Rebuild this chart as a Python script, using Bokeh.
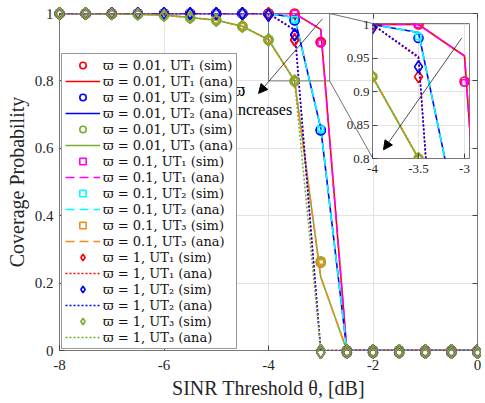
from bokeh.plotting import figure
from bokeh.models import (Range1d, LinearAxis, Legend, LegendItem, Arrow, NormalHead,
                          Label, GridBox, FixedTicker, CustomJSTickFormatter)
from bokeh.embed import file_html
from bokeh.resources import INLINE

# ---------------- data ----------------
theta = [-8.0, -7.5, -7.0, -6.5, -6.0, -5.5, -5.0, -4.5, -4.0, -3.5, -3.0,
         -2.5, -2.0, -1.5, -1.0, -0.5, 0.0]

w001_ut1_sim = [1, 1, 1, 1, 1, 1, 1, 1, 1, 1, 0.915, 0, 0, 0, 0, 0, 0]
w001_ut1_ana = [1, 1, 1, 1, 1, 1, 1, 1, 1, 1, 0.953, 0, 0, 0, 0, 0, 0]
w001_ut2_sim = [1, 1, 1, 1, 1, 1, 1, 1, 1, 0.98, 0.655, 0, 0, 0, 0, 0, 0]
w001_ut2_ana = [1, 1, 1, 1, 1, 1, 1, 1, 1, 0.988, 0.66, 0, 0, 0, 0, 0, 0]
w001_ut3_sim = [1, 1, 0.999, 0.998, 0.995, 0.988, 0.98, 0.962, 0.922, 0.80, 0.265, 0, 0, 0, 0, 0, 0]
w001_ut3_ana = [1, 1, 0.999, 0.998, 0.995, 0.988, 0.98, 0.962, 0.922, 0.80, 0.218, 0, 0, 0, 0, 0, 0]

w01_ut1_sim = [1, 1, 1, 1, 1, 1, 1, 1, 1, 1, 0.913, 0, 0, 0, 0, 0, 0]
w01_ut1_ana = [1, 1, 1, 1, 1, 1, 1, 1, 1, 1, 0.953, 0, 0, 0, 0, 0, 0]
w01_ut2_sim = [1, 1, 1, 1, 1, 1, 1, 1, 1, 0.982, 0.658, 0, 0, 0, 0, 0, 0]
w01_ut2_ana = [1, 1, 1, 1, 1, 1, 1, 1, 1, 0.988, 0.66, 0, 0, 0, 0, 0, 0]
w01_ut3_sim = [1, 1, 0.999, 0.998, 0.995, 0.988, 0.98, 0.962, 0.922, 0.80, 0.265, 0, 0, 0, 0, 0, 0]
w01_ut3_ana = [1, 1, 0.999, 0.998, 0.995, 0.988, 0.98, 0.962, 0.922, 0.80, 0.218, 0, 0, 0, 0, 0, 0]

w1_ut1_sim = [1, 1, 1, 1, 1, 1, 1, 1, 1, 0.922, 0, 0, 0, 0, 0, 0, 0]
w1_ut1_ana = [1, 1, 1, 1, 1, 1, 1, 1, 1, 0.95, 0, 0, 0, 0, 0, 0, 0]
w1_ut2_sim = [1, 1, 1, 1, 1, 1, 1, 1, 0.995, 0.937, 0, 0, 0, 0, 0, 0, 0]
w1_ut2_ana = [1, 1, 1, 1, 1, 1, 1, 1, 1, 0.952, 0, 0, 0, 0, 0, 0, 0]
w1_ut3_sim = [1, 1, 0.999, 0.998, 0.995, 0.988, 0.98, 0.962, 0.922, 0.80, 0, 0, 0, 0, 0, 0, 0]
w1_ut3_ana = [1, 1, 0.999, 0.998, 0.995, 0.988, 0.98, 0.962, 0.922, 0.80, 0, 0, 0, 0, 0, 0, 0]

x_ticks = [-8, -6, -4, -2, 0]
y_ticks = [0, 0.2, 0.4, 0.6, 0.8, 1]
inset_x_ticks = [-4, -3.5, -3]
inset_y_ticks = [0.8, 0.85, 0.9, 0.95, 1]

# ---------------- styles ----------------
RED, BLUE, GREEN = "#ff0000", "#0000ff", "#77ac30"
MAG, CYAN, ORANGE = "#ff00ff", "#00ffff", "#f28c1c"
FONT = "Liberation Serif"
LEG_FONT = "DejaVu Serif"
LW = 1.6

series = [
    ("ϖ = 0.01, UT₁ (sim)", w001_ut1_sim, "sim", RED, "circle", 9),
    ("ϖ = 0.01, UT₁ (ana)", w001_ut1_ana, "ana", RED, "solid", None),
    ("ϖ = 0.01, UT₂ (sim)", w001_ut2_sim, "sim", BLUE, "circle", 9),
    ("ϖ = 0.01, UT₂ (ana)", w001_ut2_ana, "ana", BLUE, "solid", None),
    ("ϖ = 0.01, UT₃ (sim)", w001_ut3_sim, "sim", GREEN, "circle", 9),
    ("ϖ = 0.01, UT₃ (ana)", w001_ut3_ana, "ana", GREEN, "solid", None),
    ("ϖ = 0.1, UT₁ (sim)", w01_ut1_sim, "sim", MAG, "square", 6),
    ("ϖ = 0.1, UT₁ (ana)", w01_ut1_ana, "ana", MAG, "9 5", None),
    ("ϖ = 0.1, UT₂ (sim)", w01_ut2_sim, "sim", CYAN, "square", 6),
    ("ϖ = 0.1, UT₂ (ana)", w01_ut2_ana, "ana", CYAN, "9 5", None),
    ("ϖ = 0.1, UT₃ (sim)", w01_ut3_sim, "sim", ORANGE, "square", 6),
    ("ϖ = 0.1, UT₃ (ana)", w01_ut3_ana, "ana", ORANGE, "9 5", None),
    ("ϖ = 1, UT₁ (sim)", w1_ut1_sim, "sim", RED, "diamond", 12),
    ("ϖ = 1, UT₁ (ana)", w1_ut1_ana, "ana", RED, "2 2", None),
    ("ϖ = 1, UT₂ (sim)", w1_ut2_sim, "sim", BLUE, "diamond", 12),
    ("ϖ = 1, UT₂ (ana)", w1_ut2_ana, "ana", BLUE, "2 2", None),
    ("ϖ = 1, UT₃ (sim)", w1_ut3_sim, "sim", GREEN, "diamond", 12),
    ("ϖ = 1, UT₃ (ana)", w1_ut3_ana, "ana", GREEN, "2 2", None),
]

fmt_code = "return String(tick)"


def style_axes(fig, xt, yt, fs, standoff_x, standoff_y):
    for ax in fig.xaxis + fig.yaxis:
        ax.major_tick_in = 5
        ax.major_tick_out = 0
        ax.minor_tick_line_color = None
        ax.axis_line_color = None
        ax.major_tick_line_color = "#444444"
        ax.major_label_text_font = FONT
        ax.major_label_text_font_size = fs
        ax.major_label_text_color = "#262626"
        ax.formatter = CustomJSTickFormatter(code=fmt_code)
    for ax in fig.xaxis:
        ax.ticker = FixedTicker(ticks=xt)
        ax.major_label_standoff = standoff_x
    for ax in fig.yaxis:
        ax.ticker = FixedTicker(ticks=yt)
        ax.major_label_standoff = standoff_y
    fig.xgrid.ticker = FixedTicker(ticks=xt)
    fig.ygrid.ticker = FixedTicker(ticks=yt)
    fig.grid.grid_line_color = "#e2e2e2"
    fig.outline_line_color = "#777777"
    fig.outline_line_width = 1


# ---------------- layout constants (pixels) ----------------
W, H = 481, 401
B_LEFT, B_RIGHT, B_TOP, B_BOTTOM = 59, 4, 13, 49
X0, X1, Y0, Y1 = -8.0, 0.0, 0.0, 1.0

# ---------------- main figure ----------------
p = figure(width=W, height=H, x_range=Range1d(X0, X1), y_range=Range1d(Y0, Y1),
           output_backend="svg", toolbar_location=None,
           min_border_left=B_LEFT, min_border_right=B_RIGHT,
           min_border_top=B_TOP, min_border_bottom=B_BOTTOM)
p.background_fill_color = "white"
style_axes(p, x_ticks, y_ticks, "15px", 9, 6)
p.xaxis.axis_label = "SINR Threshold θ, [dB]"
p.yaxis.axis_label = "Coverage Probability"
for ax in p.xaxis + p.yaxis:
    ax.axis_label_text_font = FONT
    ax.axis_label_text_font_size = "20px"
    ax.axis_label_text_font_style = "normal"
    ax.axis_label_text_color = "#262626"
    ax.axis_label_standoff = 4

# box ticks on top/right (labels not drawn)
for loc in ("right", "above"):
    ax = LinearAxis(ticker=FixedTicker(ticks=y_ticks if loc == "right" else x_ticks),
                    major_tick_in=5, major_tick_out=0, minor_tick_line_color=None,
                    axis_line_color=None, major_tick_line_color="#444444",
                    major_label_text_color=None, major_label_text_font_size="1px",
                    major_label_standoff=0)
    p.add_layout(ax, loc)

items = []
for label, ys, kind, color, style, size in series:
    if kind == "sim":
        r = p.scatter(theta, ys, marker=style, size=size, fill_color=None,
                      line_color=color, line_width=LW)
    else:
        r = p.line(theta, ys, line_color=color, line_width=LW,
                   line_dash=style)
    items.append(LegendItem(label=label, renderers=[r]))

# zoom rectangle and connectors
zoom_x0, zoom_x1, zoom_y0, zoom_y1 = -4.0, -2.83, 0.8, 1.0
inset_corner_x, inset_top_y, inset_bot_y = -2.01, 0.9705, 0.572
p.quad(left=[zoom_x0], right=[zoom_x1], bottom=[zoom_y0], top=[zoom_y1],
       fill_color=None, line_color="#7a7a7a", line_width=1)
p.segment(x0=[zoom_x1, zoom_x1], y0=[zoom_y1, zoom_y0],
          x1=[inset_corner_x, inset_corner_x], y1=[inset_top_y, inset_bot_y],
          line_color="#333333", line_width=0.7)

p.add_layout(Arrow(end=NormalHead(size=9, fill_color="black", line_color="black"),
                   x_start=-2.97, y_start=0.984, x_end=-4.19, y_end=0.763,
                   line_color="black", line_width=0.7))
p.add_layout(Label(x=-4.67, y=0.773, text="ϖ", text_font=FONT, text_font_size="18px",
                   text_baseline="middle", text_color="black"))
p.add_layout(Label(x=-4.67, y=0.714, text="increases", text_font=FONT,
                   text_font_size="16px", text_baseline="middle", text_color="black"))

legend = Legend(items=items, location=(2, 1), margin=0, padding=3, spacing=0,
                glyph_width=35, glyph_height=16, label_height=16, label_standoff=3,
                label_text_font=LEG_FONT, label_text_font_size="13px",
                label_text_color="#111111", border_line_color="#333333",
                border_line_width=1, background_fill_alpha=1)
p.add_layout(legend)

# ---------------- transparent overlay so edge markers are not clipped ----------------
PAD_L, PAD_R, PAD_T, PAD_B = 8, 4, 8, 8
fw = W - B_LEFT - B_RIGHT
fh = H - B_TOP - B_BOTTOM
sx = (X1 - X0) / fw
sy = (Y1 - Y0) / fh
ov = figure(width=W, height=H,
            x_range=Range1d(X0 - PAD_L * sx, X1 + PAD_R * sx),
            y_range=Range1d(Y0 - PAD_B * sy, Y1 + PAD_T * sy),
            x_axis_type=None, y_axis_type=None, title=None,
            output_backend="svg", toolbar_location=None, frame_align=False,
            min_border_left=B_LEFT - PAD_L, min_border_right=B_RIGHT - PAD_R,
            min_border_top=B_TOP - PAD_T, min_border_bottom=B_BOTTOM - PAD_B)
ov.background_fill_color = None
ov.border_fill_color = None
ov.outline_line_color = None
ov.grid.visible = False
for label, ys, kind, color, style, size in series:
    if kind == "sim":
        ov.scatter(theta, ys, marker=style, size=size, fill_color=None,
                   line_color=color, line_width=LW)

# ---------------- inset figure ----------------
pi = figure(width=137, height=163, x_range=Range1d(-4, -2.946), y_range=Range1d(0.8, 1.0015),
            output_backend="svg", toolbar_location=None, frame_align=False,
            min_border_left=32, min_border_right=8, min_border_top=8, min_border_bottom=20)
pi.background_fill_color = "white"
pi.border_fill_color = None
style_axes(pi, inset_x_ticks, inset_y_ticks, "13px", 6, 3)
for label, ys, kind, color, style, size in series:
    if kind == "sim":
        pi.scatter(theta, ys, marker=style, size=size, fill_color=None,
                   line_color=color, line_width=LW)
    else:
        pi.line(theta, ys, line_color=color, line_width=LW, line_dash=style)
pi.add_layout(Arrow(end=NormalHead(size=9, fill_color="black", line_color="black"),
                    x_start=-3.03, y_start=0.98, x_end=-3.88, y_end=0.813,
                    line_color="black", line_width=0.7))

grid = GridBox(children=[(p, 0, 0, 3, 3), (ov, 0, 0, 3, 3), (pi, 1, 1)],
               rows=["15px", "163px", "223px"], cols=["340px", "137px", "4px"])

open("out.html", "w").write(file_html(grid, INLINE))
